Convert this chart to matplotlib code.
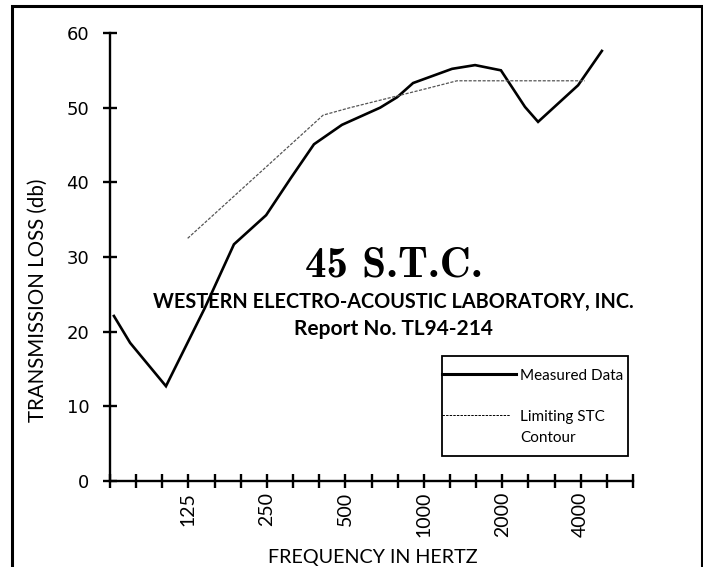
"""Transmission loss vs frequency with limiting STC contour."""

import matplotlib
matplotlib.use("Agg")
import matplotlib.pyplot as plt
from matplotlib.lines import Line2D
from matplotlib.patches import Rectangle

W, H = 703, 567

# 1/3-octave band positions on the x axis (0 = 63 Hz ... 20 = 6300 Hz)
n_bands = 21
label_pos = [3, 6, 9, 12, 15, 18]
label_text = ["125", "250", "500", "1000", "2000", "4000"]

# measured transmission loss (band position, dB)
meas_pos = [0.15, 0.77, 2.14, 3.63, 4.74, 5.97, 6.92, 7.80, 8.87, 10.33,
            10.98, 11.59, 13.08, 13.96, 14.95, 15.87, 16.37, 17.90, 18.81]
meas_db = [22.1, 18.5, 12.7, 23.2, 31.7, 35.6, 40.6, 45.1, 47.7, 50.0,
           51.4, 53.3, 55.2, 55.7, 55.0, 50.1, 48.1, 53.0, 57.6]

# limiting STC 45 contour
contour_pos = [2.97, 8.15, 9.18, 10.33, 11.93, 13.27, 18.16]
contour_db = [32.5, 49.0, 50.0, 51.0, 52.4, 53.6, 53.6]

TEXT_FONT = "Lato"


def fx(px):
    return px / W


def fy(py):
    return 1 - py / H


fig = plt.figure(figsize=(W / 100, H / 100), dpi=100)
ax = fig.add_axes([fx(110), fy(481), (633 - 110) / W, (481 - 33) / H])

ax.plot(meas_pos, meas_db, color="black", lw=1.9, solid_joinstyle="miter")
ax.plot(contour_pos, contour_db, color="#555555", lw=0.9, dashes=(2.5, 1.2))

ax.set_xlim(0, n_bands - 1)
ax.set_ylim(0, 60)
for side in ("top", "right"):
    ax.spines[side].set_visible(False)
for side in ("left", "bottom"):
    ax.spines[side].set_linewidth(1.7)

ax.set_xticks(range(n_bands))
ax.set_xticklabels(
    [label_text[label_pos.index(i)] if i in label_pos else "" for i in range(n_bands)],
    rotation=90, fontsize=14, family=TEXT_FONT,
)
ax.set_yticks(range(0, 61, 10))
ax.set_yticklabels([str(v) for v in range(0, 61, 10)], fontsize=13, family="DejaVu Sans")
ax.tick_params(direction="inout", length=10, width=1.7, color="black")
ax.tick_params(axis="y", pad=10)
ax.tick_params(axis="x", pad=3)

# outer frame (open at the bottom, runs off the image)
fig.add_artist(Rectangle((fx(12), -0.1), (702 - 12) / W, fy(6) + 0.1,
                         transform=fig.transFigure, fill=False, lw=2.2,
                         edgecolor="black"))

fig.text(fx(38), fy(300), "TRANSMISSION LOSS (db)", rotation=90,
         ha="center", va="center", fontsize=14.8, family=TEXT_FONT)
fig.text(fx(373), fy(563), "FREQUENCY IN HERTZ", ha="center", va="baseline",
         fontsize=14.2, family=TEXT_FONT)

fig.text(fx(393.5), fy(277), "45 S.T.C.", ha="center", va="baseline",
         fontsize=31, family="cmb10")
fig.text(fx(393.5), fy(308), "WESTERN ELECTRO-ACOUSTIC LABORATORY, INC.",
         ha="center", va="baseline", fontsize=14.3, fontweight="bold", family=TEXT_FONT)
fig.text(fx(393.5), fy(335), "Report No. TL94-214", ha="center", va="baseline",
         fontsize=15, fontweight="bold", family=TEXT_FONT)

# hand-drawn legend box
fig.add_artist(Rectangle((fx(442), fy(456)), (628 - 442) / W, (456 - 356) / H,
                         transform=fig.transFigure, fill=False, lw=1.3,
                         edgecolor="black"))
fig.add_artist(Line2D([fx(442), fx(516)], [fy(374), fy(374)],
                      transform=fig.transFigure, color="black", lw=2.2))
fig.add_artist(Line2D([fx(442), fx(510)], [fy(415), fy(415)],
                      transform=fig.transFigure, color="black", lw=0.7,
                      dashes=(2.5, 1.2)))
fig.text(fx(520), fy(380), "Measured Data", va="baseline", fontsize=11, family=TEXT_FONT)
fig.text(fx(520), fy(421), "Limiting STC", va="baseline", fontsize=11, family=TEXT_FONT)
fig.text(fx(520), fy(442), "Contour", va="baseline", fontsize=11, family=TEXT_FONT)

fig.savefig("out.png", dpi=100)
